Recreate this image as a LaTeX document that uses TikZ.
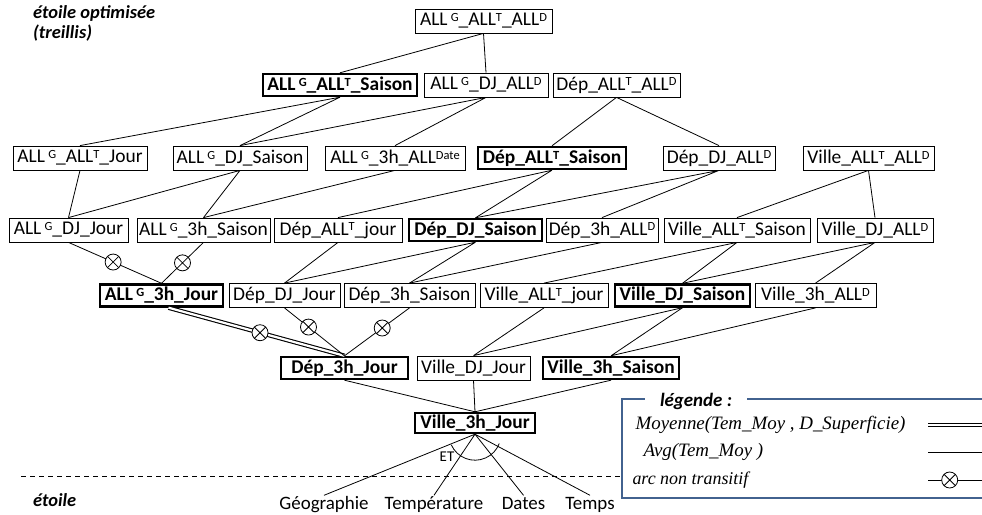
\documentclass[tikz,border=0pt]{standalone}
\usepackage{fontspec}
\setmainfont{Carlito}
\newfontfamily\legfont{Liberation Serif}
\usepackage{tikz}

\definecolor{legblue}{RGB}{66,98,143}
\newcommand\up[1]{\raisebox{4.2bp}{\fontsize{12.5}{12}\selectfont #1}}

\tikzset{
  cube/.style={draw, line width=0.8bp, minimum height=24bp, inner sep=1.5bp, font=\fontsize{19.5}{22}\selectfont},
  keycube/.style={cube, line width=2.4bp, minimum height=22bp, font=\fontsize{19.5}{22}\selectfont\bfseries},
  notrans/.style={circle, draw, fill=white, line width=0.8bp, minimum size=16bp, inner sep=0pt,
    path picture={\draw[line width=0.8bp] (path picture bounding box.south west) -- (path picture bounding box.north east)
      (path picture bounding box.north west) -- (path picture bounding box.south east);}},
  dim/.style={font=\fontsize{19}{22}\selectfont, text height=13bp, text depth=4bp, inner sep=1bp},
  link/.style={line width=0.8bp},
  twin/.style={line width=1.1bp, double, double distance=2.2bp},
}

\begin{document}
\begin{tikzpicture}[x=1bp, y=-1bp]
    \useasboundingbox (0,0) rectangle (982,515);

    \node[anchor=north west, align=left, inner sep=0pt, font=\fontsize{18.5}{20.5}\selectfont\bfseries\itshape] (title) at (33,5) {étoile optimisée\\(treillis)};
    \node[anchor=west, inner sep=0pt, font=\fontsize{18.5}{20.5}\selectfont\bfseries\itshape] (star) at (33,500) {étoile};

    \node[cube, minimum width=137bp] (a0) at (483.5,21) {ALL\,\up{G}\_ALL\up{T}\_ALL\up{D}};

    \node[keycube, minimum width=154bp] (b1) at (340,85) {ALL\,\up{G}\_ALL\up{T}\_Saison};
    \node[cube, minimum width=124bp] (b2) at (486,85) {ALL\,\up{G}\_DJ\_ALL\up{D}};
    \node[cube, minimum width=127bp] (b3) at (616.5,85) {Dép\_ALL\up{T}\_ALL\up{D}};

    \node[cube, minimum width=134bp] (c1) at (80,158) {ALL\,\up{G}\_ALL\up{T}\_Jour};
    \node[cube, minimum width=134bp] (c2) at (240,158) {ALL\,\up{G}\_DJ\_Saison};
    \node[cube, minimum width=140bp] (c3) at (395,158) {ALL\,\up{G}\_3h\_ALL\up{Date}};
    \node[keycube, minimum width=148bp] (c4) at (552,158) {Dép\_ALL\up{T}\_Saison};
    \node[cube, minimum width=112bp] (c5) at (719,158) {Dép\_DJ\_ALL\up{D}};
    \node[cube, minimum width=131bp] (c6) at (868.5,158) {Ville\_ALL\up{T}\_ALL\up{D}};

    \node[cube, minimum width=119bp] (d1) at (68.5,230) {ALL\,\up{G}\_DJ\_Jour};
    \node[cube, minimum width=133bp] (d2) at (203.5,230) {ALL\,\up{G}\_3h\_Saison};
    \node[cube, minimum width=128bp] (d3) at (338,230) {Dép\_ALL\up{T}\_jour};
    \node[keycube, minimum width=133bp] (d4) at (475.5,230) {Dép\_DJ\_Saison};
    \node[cube, minimum width=112bp] (d5) at (602,230) {Dép\_3h\_ALL\up{D}};
    \node[cube, minimum width=146bp] (d6) at (737,230) {Ville\_ALL\up{T}\_Saison};
    \node[cube, minimum width=116bp] (d7) at (875,230) {Ville\_DJ\_ALL\up{D}};

    \node[keycube, minimum width=123bp] (e1) at (161.5,295.5) {ALL\,\up{G}\_3h\_Jour};
    \node[cube, minimum width=111bp] (e2) at (284.5,295.5) {Dép\_DJ\_Jour};
    \node[cube, minimum width=131bp] (e3) at (409.5,295.5) {Dép\_3h\_Saison};
    \node[cube, minimum width=128bp] (e4) at (544,295.5) {Ville\_ALL\up{T}\_jour};
    \node[keycube, minimum width=135bp] (e5) at (682.5,295.5) {Ville\_DJ\_Saison};
    \node[cube, minimum width=121bp] (e6) at (815.5,295.5) {Ville\_3h\_ALL\up{D}};

    \node[keycube, minimum width=127bp] (f1) at (344.5,368) {Dép\_3h\_Jour\hspace{12bp}};
    \node[cube, minimum width=113bp] (f2) at (473.5,368) {Ville\_DJ\_Jour};
    \node[keycube, minimum width=136bp] (f3) at (611,368) {Ville\_3h\_Saison};

    \node[keycube, minimum width=120bp, minimum height=20bp] (g) at (475,423) {Ville\_3h\_Jour};

    \node[dim] (geo) at (324,505) {Géographie};
    \node[dim] (tem) at (434,505) {Température};
    \node[dim] (dat) at (523.5,505) {Dates};
    \node[dim] (tps) at (590,505) {Temps};

    \draw[link] (a0.south) -- (b1.north) (a0.south) -- (b2.north);
    \draw[link] (b1.south) -- (c1.north) (b1.south) -- (c2.north);
    \draw[link] (b2.south) -- (c2.north) (b2.south) -- (c3.north);
    \draw[link] (b3.south) -- (c4.north) (b3.south) -- (c5.north);
    \draw[link] (c1.south) -- (d1.north);
    \draw[link] (c2.south) -- (d1.north) (c2.south) -- (d2.north);
    \draw[link] (c3.south) -- (d2.north);
    \draw[link] (c4.south) -- (d3.north) (c4.south) -- (d4.north);
    \draw[link] (c5.south) -- (d4.north) (c5.south) -- (d5.north);
    \draw[link] (c6.south) -- (d6.north) (c6.south) -- (d7.north);
    \draw[link] (d1.south) -- (e1.north) node[notrans, pos=.48] (x1) {};
    \draw[link] (d2.south) -- (e1.north) node[notrans, pos=.5] (x2) {};
    \draw[link] (d3.south) -- (e2.north);
    \draw[link] (d4.south) -- (e2.north) (d4.south) -- (e3.north);
    \draw[link] (d5.south) -- (e3.north);
    \draw[link] (d6.south) -- (e4.north) (d6.south) -- (e5.north);
    \draw[link] (d7.south) -- (e5.north) (d7.south) -- (e6.north);
    \draw[twin] ([xshift=7bp]e1.south) -- (f1.north) node[notrans, pos=.52] (x3) {};
    \draw[link] (e2.south) -- (f1.north) node[notrans, pos=.4] (x4) {};
    \draw[link] (e3.south) -- (f1.north) node[notrans, pos=.42] (x5) {};
    \draw[link] (e4.south) -- (f2.north) (e5.south) -- (f2.north);
    \draw[link] (e5.south) -- (f3.north) (e6.south) -- (f3.north);
    \draw[link] (f1.south) -- (g.north) (f2.south) -- (g.north) (f3.south) -- (g.north);
    \draw[link] (g.south) -- (geo.north) (g.south) -- (tem.north) (g.south) -- (dat.north) (g.south) -- (tps.north);
    \draw[link] ([shift={(204:26bp)}]g.south) arc[start angle=204, end angle=339, radius=26bp];
    \node[font=\fontsize{15}{17}\selectfont] (et) at (447,457) {ET};

    \coordinate (ds) at (21,476);
    \coordinate (de) at (622,476);
    \draw[line width=0.8bp, dash pattern=on 5bp off 4bp] (ds) -- (de);

    \draw[legblue, line width=2bp] (622,399) rectangle (992,498);
    \node[fill=white, minimum width=102bp, inner ysep=1bp, font=\fontsize{19}{21}\selectfont\bfseries\itshape] (leg) at (696,401) {légende :};
    \node[anchor=west, font=\fontsize{19}{21}\legfont\itshape] (m1) at (632,425) {Moyenne(Tem\_Moy , D\_Superficie)};
    \node[anchor=west, font=\fontsize{19}{21}\legfont\itshape] (m2) at (640,452) {Avg(Tem\_Moy )};
    \node[anchor=west, font=\fontsize{18}{20}\legfont\itshape] (m3) at (629,480) {arc non transitif};
    \coordinate (k1) at (928,425); \coordinate (k1e) at (990,425);
    \coordinate (k2) at (928,452); \coordinate (k2e) at (990,452);
    \coordinate (k3) at (928,480); \coordinate (k3e) at (990,480);
    \draw[twin] (k1) -- (k1e);
    \draw[link] (k2) -- (k2e);
    \draw[link] (k3) -- (k3e) node[notrans, pos=.35] (x6) {};

\end{tikzpicture}
\end{document}
